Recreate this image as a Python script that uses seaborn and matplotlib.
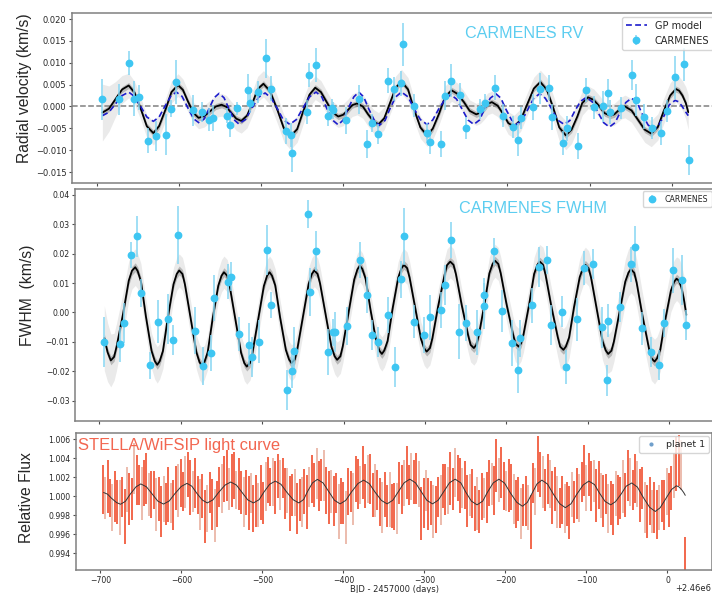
import numpy as np
import matplotlib
matplotlib.use("Agg")
import matplotlib.pyplot as plt
from matplotlib.lines import Line2D
from matplotlib.ticker import MultipleLocator
import seaborn as sns

# time offset of the x axis (BJD)
T0 = 2460000

# ---------------- CARMENES RV (days from T0, km/s) ----------------
rv_t = [-693, -673, -661, -654, -648, -638, -628, -616, -610, -603,
        -583, -572, -563, -559, -541, -538, -529, -516, -513, -504,
        -494, -488, -470, -464, -462, -444, -441, -433, -419, -413,
        -412, -396, -381, -371, -365, -358, -346, -338, -329, -327,
        -314, -298, -294, -281, -276, -269, -258, -251, -234, -227,
        -215, -206, -193, -187, -183, -169, -161, -150, -146, -133,
        -127, -114, -105, -95, -84, -78, -75, -62, -49, -43,
        -34, -24, -13, -6, 4, 15, 21]
rv_v = [0.0016, 0.0016, 0.0100, 0.0018, 0.0021, -0.0078, -0.0068, -0.0065, -0.0005, 0.0056,
        -0.0009, -0.0012, -0.0030, -0.0026, -0.0021, -0.0043, -0.0004, 0.0038, 0.0008, 0.0033,
        0.0110, 0.0041, -0.0056, -0.0065, -0.0106, -0.0013, 0.0072, 0.0095, -0.0021, -0.0004,
        -0.0009, -0.0032, 0.0016, -0.0085, -0.0038, -0.0062, 0.0059, 0.0040, 0.0053, 0.0142,
        0.0002, -0.0061, -0.0081, -0.0085, 0.0025, 0.0059, 0.0027, -0.0049, -0.0005, 0.0009,
        0.0043, -0.0021, -0.0046, -0.0076, -0.0026, -0.0002, 0.0041, 0.0043, -0.0024, -0.0084,
        -0.0050, -0.0091, 0.0038, -0.0002, 0.0000, 0.0031, -0.0013, -0.0004, 0.0072, 0.0015,
        -0.0023, -0.0049, -0.0061, -0.0011, 0.0067, 0.0097, -0.0123]
rv_e = [0.0047, 0.0036, 0.0027, 0.0040, 0.0028, 0.0028, 0.0034, 0.0047, 0.0020, 0.0051,
        0.0036, 0.0023, 0.0027, 0.0030, 0.0017, 0.0027, 0.0015, 0.0036, 0.0023, 0.0025,
        0.0044, 0.0028, 0.0030, 0.0027, 0.0044, 0.0027, 0.0028, 0.0038, 0.0023, 0.0021,
        0.0020, 0.0030, 0.0034, 0.0032, 0.0021, 0.0023, 0.0028, 0.0027, 0.0028, 0.0049,
        0.0027, 0.0023, 0.0027, 0.0030, 0.0034, 0.0038, 0.0027, 0.0025, 0.0023, 0.0019,
        0.0028, 0.0027, 0.0025, 0.0038, 0.0025, 0.0030, 0.0036, 0.0028, 0.0030, 0.0028,
        0.0028, 0.0030, 0.0028, 0.0027, 0.0036, 0.0032, 0.0027, 0.0025, 0.0034, 0.0036,
        0.0028, 0.0025, 0.0028, 0.0025, 0.0049, 0.0038, 0.0034]

# RV mean model (black) with outer band half-width
rv_mod_t = [-693,
            -685, -677, -669, -661, -654, -646, -639, -631, -624, -616, -609, -601,
            -595, -589, -582, -576, -569, -562, -555, -548, -542, -536, -530, -524,
            -517, -510, -504, -497, -489, -480, -472, -464, -456, -449, -441, -434,
            -427, -420, -413, -406, -400, -394, -389, -383, -376, -370, -363, -357,
            -350, -343, -336, -329, -321, -314, -306, -298, -291, -283, -276, -268,
            -261, -253, -246, -238, -233, -228, -224, -219, -212, -205, -199, -192,
            -184, -176, -168, -160, -152, -144, -137, -129, -122, -115, -109, -102,
            -95, -88, -82, -75, -70, -66, -61, -57, -49, -41, -33, -25,
            -17, -10, -2, 5, 9, 13, 17, 20]
rv_mod_v = [-0.0014,
            -0.0005, 0.0017, 0.0039, 0.0048, 0.0032, -0.0007, -0.0045, -0.0061,
            -0.0045, -0.0006, 0.0033, 0.0049, 0.0038, 0.0012, -0.0015, -0.0026,
            -0.0022, -0.0011, 0.0000, 0.0004, -0.0001, -0.0015, -0.0028, -0.0033,
            -0.0021, 0.0010, 0.0040, 0.0052, 0.0035, -0.0008, -0.0051, -0.0068,
            -0.0052, -0.0013, 0.0027, 0.0043, 0.0033, 0.0010, -0.0013, -0.0023,
            -0.0019, -0.0008, 0.0003, 0.0007, 0.0000, -0.0017, -0.0034, -0.0041,
            -0.0027, 0.0008, 0.0043, 0.0057, 0.0039, -0.0005, -0.0048, -0.0066,
            -0.0051, -0.0015, 0.0022, 0.0037, 0.0029, 0.0010, -0.0010, -0.0018,
            -0.0014, -0.0004, 0.0006, 0.0010, 0.0002, -0.0018, -0.0038, -0.0046,
            -0.0031, 0.0005, 0.0041, 0.0056, 0.0038, -0.0005, -0.0048, -0.0066,
            -0.0053, -0.0023, 0.0008, 0.0021, 0.0015, 0.0000, -0.0015, -0.0021,
            -0.0018, -0.0011, -0.0003, 0.0000, -0.0009, -0.0031, -0.0053, -0.0062,
            -0.0047, -0.0011, 0.0025, 0.0040, 0.0036, 0.0025, 0.0008, -0.0013]
rv_band = [0.0065,
           0.0052, 0.0040, 0.0032, 0.0028, 0.0026, 0.0025, 0.0026, 0.0027,
           0.0026, 0.0025, 0.0025, 0.0026, 0.0025, 0.0024, 0.0024, 0.0025,
           0.0025, 0.0025, 0.0025, 0.0026, 0.0026, 0.0026, 0.0027, 0.0028,
           0.0028, 0.0028, 0.0029, 0.0030, 0.0031, 0.0031, 0.0031, 0.0031,
           0.0030, 0.0029, 0.0028, 0.0027, 0.0026, 0.0025, 0.0025, 0.0025,
           0.0025, 0.0025, 0.0026, 0.0026, 0.0027, 0.0027, 0.0027, 0.0027,
           0.0026, 0.0026, 0.0027, 0.0028, 0.0027, 0.0026, 0.0025, 0.0025,
           0.0025, 0.0025, 0.0025, 0.0025, 0.0025, 0.0025, 0.0025, 0.0025,
           0.0025, 0.0025, 0.0025, 0.0025, 0.0025, 0.0025, 0.0026, 0.0026,
           0.0026, 0.0026, 0.0026, 0.0027, 0.0028, 0.0029, 0.0031, 0.0033,
           0.0032, 0.0030, 0.0028, 0.0026, 0.0025, 0.0025, 0.0025, 0.0025,
           0.0025, 0.0025, 0.0025, 0.0026, 0.0027, 0.0028, 0.0029, 0.0030,
           0.0030, 0.0029, 0.0029, 0.0030, 0.0032, 0.0034, 0.0037, 0.0040]

# GP model (blue dashed)
gp_t = [-693,
        -685, -677, -669, -661, -654, -646, -639, -631, -624, -617, -610, -603,
        -596, -589, -582, -575, -569, -563, -557, -551, -545, -539, -533, -527,
        -519, -511, -503, -495, -488, -480, -473, -465, -457, -449, -441, -433,
        -426, -420, -413, -406, -400, -394, -387, -381, -375, -369, -362, -356,
        -349, -343, -336, -329, -321, -314, -306, -298, -291, -284, -276, -269,
        -262, -255, -248, -241, -234, -228, -221, -214, -208, -202, -195, -189,
        -182, -175, -168, -161, -154, -146, -139, -131, -124, -118, -111, -104,
        -97, -90, -83, -76, -69, -63, -56, -49, -42, -36, -29, -22,
        -16, -9, -3, 4, 8, 12, 16, 20]
gp_v = [-0.0021,
        -0.0013, 0.0006, 0.0025, 0.0033, 0.0023, -0.0001, -0.0024, -0.0034,
        -0.0024, 0.0000, 0.0023, 0.0033, 0.0023, -0.0003, -0.0028, -0.0038,
        -0.0028, -0.0004, 0.0020, 0.0030, 0.0020, -0.0005, -0.0030, -0.0040,
        -0.0030, -0.0004, 0.0021, 0.0031, 0.0020, -0.0005, -0.0030, -0.0041,
        -0.0030, -0.0004, 0.0022, 0.0033, 0.0022, -0.0004, -0.0031, -0.0042,
        -0.0031, -0.0005, 0.0022, 0.0033, 0.0022, -0.0005, -0.0032, -0.0043,
        -0.0032, -0.0005, 0.0022, 0.0033, 0.0022, -0.0004, -0.0030, -0.0041,
        -0.0031, -0.0007, 0.0017, 0.0027, 0.0017, -0.0007, -0.0031, -0.0041,
        -0.0031, -0.0006, 0.0019, 0.0029, 0.0019, -0.0006, -0.0031, -0.0041,
        -0.0031, -0.0006, 0.0019, 0.0029, 0.0019, -0.0006, -0.0031, -0.0041,
        -0.0032, -0.0010, 0.0012, 0.0021, 0.0011, -0.0013, -0.0037, -0.0047,
        -0.0037, -0.0014, 0.0009, 0.0019, 0.0008, -0.0017, -0.0042, -0.0053,
        -0.0043, -0.0020, 0.0004, 0.0014, 0.0011, 0.0002, -0.0010, -0.0021]

# ---------------- CARMENES FWHM (days from T0, km/s) ----------------
fw_t = [-694, -675, -670, -661, -654, -649, -638, -628, -616, -610,
        -603, -583, -573, -563, -559, -542, -538, -529, -516, -513,
        -504, -494, -489, -470, -463, -461, -444, -441, -434, -419,
        -413, -411, -396, -380, -371, -365, -358, -346, -337, -330,
        -326, -313, -301, -294, -280, -276, -268, -258, -250, -236,
        -228, -227, -215, -205, -193, -186, -183, -168, -160, -150,
        -145, -132, -127, -113, -105, -94, -83, -77, -75, -61,
        -47, -42, -33, -23, -12, -6, 5, 16, 21]
fw_v = [-0.0102, -0.0108, -0.0036, 0.0195, 0.0259, 0.0066, -0.0180, -0.0031, -0.0022, -0.0093,
        0.0264, -0.0062, -0.0181, -0.0138, 0.0049, 0.0105, 0.0122, -0.0074, -0.0110, -0.0150,
        -0.0099, 0.0213, 0.0026, -0.0263, -0.0198, -0.0130, 0.0335, 0.0069, 0.0208, -0.0135,
        -0.0068, -0.0068, -0.0045, 0.0179, 0.0060, -0.0076, -0.0101, -0.0008, -0.0184, 0.0113,
        0.0259, -0.0031, -0.0076, -0.0017, 0.0009, 0.0092, 0.0247, -0.0065, -0.0036, -0.0068,
        0.0023, 0.0060, 0.0208, 0.0006, -0.0104, -0.0197, -0.0088, 0.0024, 0.0154, 0.0179,
        -0.0043, 0.0003, -0.0186, -0.0023, 0.0151, 0.0164, -0.0051, -0.0231, -0.0028, 0.0020,
        0.0164, 0.0222, -0.0054, -0.0133, -0.0178, -0.0036, 0.0143, 0.0111, -0.0042]
fw_e = [0.0085, 0.0060, 0.0068, 0.0045, 0.0070, 0.0048, 0.0045, 0.0073, 0.0085, 0.0050,
        0.0099, 0.0079, 0.0065, 0.0062, 0.0079, 0.0060, 0.0050, 0.0057, 0.0073, 0.0068,
        0.0073, 0.0085, 0.0045, 0.0068, 0.0060, 0.0079, 0.0048, 0.0082, 0.0068, 0.0079,
        0.0045, 0.0068, 0.0065, 0.0060, 0.0062, 0.0050, 0.0050, 0.0062, 0.0068, 0.0062,
        0.0096, 0.0057, 0.0062, 0.0076, 0.0062, 0.0068, 0.0062, 0.0094, 0.0062, 0.0076,
        0.0079, 0.0057, 0.0045, 0.0071, 0.0079, 0.0076, 0.0062, 0.0060, 0.0068, 0.0048,
        0.0068, 0.0054, 0.0057, 0.0074, 0.0057, 0.0051, 0.0071, 0.0054, 0.0057, 0.0051,
        0.0060, 0.0071, 0.0057, 0.0051, 0.0051, 0.0048, 0.0077, 0.0085, 0.0050]

# FWHM mean model (black) with outer band half-width
fw_mod_t = [-694, -690, -686,
            -682, -679, -671, -664, -660, -656,
            -653, -649, -643, -636, -632, -629,
            -626, -622, -616, -609, -605, -602,
            -598, -595, -588, -581, -577, -574,
            -571, -567, -561, -554, -550, -547,
            -543, -540, -533, -526, -522, -519,
            -515, -512, -505, -498, -494, -491,
            -488, -484, -478, -471, -467, -464,
            -460, -457, -450, -443, -439, -436,
            -432, -429, -422, -415, -411, -408,
            -404, -401, -394, -387, -383, -380,
            -377, -373, -367, -360, -356, -353,
            -350, -346, -340, -333, -329, -326,
            -322, -319, -312, -305, -301, -298,
            -294, -291, -284, -276, -273, -269,
            -265, -262, -255, -247, -244, -240,
            -237, -234, -227, -221, -217, -214,
            -210, -207, -200, -192, -189, -185,
            -182, -179, -172, -166, -162, -159,
            -155, -152, -145, -137, -134, -130,
            -127, -123, -117, -110, -106, -103,
            -99, -96, -89, -82, -78, -75,
            -71, -68, -61, -54, -50, -47,
            -43, -40, -33, -25, -22, -18,
            -15, -11, -5, 2, 6, 9,
            12, 15, 18, 21]
fw_mod_v = [-0.0087, -0.0135, -0.0163,
            -0.0151, -0.0117, -0.0005, 0.0108, 0.0142, 0.0154,
            0.0141, 0.0106, -0.0012, -0.0130, -0.0165, -0.0178,
            -0.0166, -0.0131, -0.0018, 0.0096, 0.0131, 0.0143,
            0.0131, 0.0096, -0.0019, -0.0134, -0.0169, -0.0181,
            -0.0169, -0.0135, -0.0022, 0.0091, 0.0125, 0.0137,
            0.0125, 0.0090, -0.0024, -0.0137, -0.0172, -0.0184,
            -0.0172, -0.0137, -0.0024, 0.0090, 0.0125, 0.0137,
            0.0125, 0.0092, -0.0018, -0.0127, -0.0160, -0.0172,
            -0.0160, -0.0126, -0.0015, 0.0097, 0.0131, 0.0143,
            0.0131, 0.0099, -0.0009, -0.0117, -0.0149, -0.0161,
            -0.0149, -0.0114, -0.0001, 0.0112, 0.0147, 0.0159,
            0.0148, 0.0115, 0.0009, -0.0097, -0.0130, -0.0141,
            -0.0129, -0.0097, 0.0011, 0.0118, 0.0150, 0.0162,
            0.0151, 0.0119, 0.0015, -0.0090, -0.0122, -0.0133,
            -0.0121, -0.0088, 0.0020, 0.0128, 0.0161, 0.0173,
            0.0162, 0.0130, 0.0026, -0.0078, -0.0110, -0.0121,
            -0.0110, -0.0078, 0.0028, 0.0133, 0.0165, 0.0176,
            0.0165, 0.0133, 0.0030, -0.0073, -0.0105, -0.0116,
            -0.0105, -0.0074, 0.0029, 0.0131, 0.0162, 0.0173,
            0.0162, 0.0129, 0.0023, -0.0083, -0.0116, -0.0127,
            -0.0116, -0.0085, 0.0018, 0.0120, 0.0151, 0.0162,
            0.0150, 0.0118, 0.0011, -0.0097, -0.0129, -0.0141,
            -0.0130, -0.0099, 0.0003, 0.0105, 0.0136, 0.0147,
            0.0135, 0.0101, -0.0010, -0.0121, -0.0155, -0.0167,
            -0.0156, -0.0126, -0.0026, 0.0074, 0.0104, 0.0115,
            0.0108, 0.0085, 0.0045, -0.0008]
fw_band = [0.0110, 0.0100, 0.0090,
           0.0080, 0.0080, 0.0072, 0.0066, 0.0062, 0.0062,
           0.0060, 0.0060, 0.0058, 0.0060, 0.0062, 0.0062,
           0.0060, 0.0060, 0.0058, 0.0057, 0.0056, 0.0056,
           0.0056, 0.0056, 0.0057, 0.0058, 0.0060, 0.0060,
           0.0058, 0.0058, 0.0056, 0.0055, 0.0055, 0.0055,
           0.0055, 0.0055, 0.0056, 0.0058, 0.0060, 0.0060,
           0.0058, 0.0058, 0.0056, 0.0055, 0.0055, 0.0055,
           0.0056, 0.0056, 0.0058, 0.0060, 0.0062, 0.0062,
           0.0060, 0.0060, 0.0058, 0.0056, 0.0055, 0.0055,
           0.0055, 0.0055, 0.0056, 0.0058, 0.0060, 0.0060,
           0.0058, 0.0058, 0.0056, 0.0055, 0.0055, 0.0055,
           0.0055, 0.0055, 0.0056, 0.0057, 0.0058, 0.0058,
           0.0057, 0.0057, 0.0056, 0.0055, 0.0055, 0.0055,
           0.0055, 0.0055, 0.0056, 0.0057, 0.0058, 0.0058,
           0.0057, 0.0057, 0.0056, 0.0055, 0.0055, 0.0055,
           0.0055, 0.0055, 0.0056, 0.0057, 0.0058, 0.0058,
           0.0057, 0.0057, 0.0056, 0.0055, 0.0056, 0.0056,
           0.0056, 0.0056, 0.0058, 0.0060, 0.0062, 0.0062,
           0.0060, 0.0060, 0.0058, 0.0057, 0.0058, 0.0058,
           0.0060, 0.0060, 0.0064, 0.0068, 0.0072, 0.0072,
           0.0070, 0.0070, 0.0066, 0.0062, 0.0060, 0.0060,
           0.0060, 0.0060, 0.0062, 0.0064, 0.0066, 0.0066,
           0.0068, 0.0068, 0.0072, 0.0076, 0.0080, 0.0080,
           0.0080, 0.0080, 0.0078, 0.0076, 0.0076, 0.0076,
           0.0074, 0.0074, 0.0072, 0.0072, 0.0074, 0.0074,
           0.0076, 0.0078, 0.0080, 0.0082]

# ---------------- STELLA/WiFSIP light curve ----------------
lc_t = [-697, -694, -691, -688, -685, -682, -679, -676, -673, -670,
        -667, -664, -661, -658, -655, -652, -649, -646, -643, -640,
        -637, -634, -631, -628, -625, -622, -619, -616, -613, -610,
        -607, -604, -601, -598, -595, -592, -589, -586, -583, -580,
        -577, -574, -571, -568, -565, -562, -559, -556, -553, -550,
        -547, -544, -541, -538, -535, -532, -529, -526, -523, -520,
        -517, -514, -511, -508, -505, -502, -499, -496, -493, -490,
        -487, -484, -481, -478, -475, -472, -469, -466, -463, -460,
        -457, -454, -451, -448, -445, -442, -439, -436, -433, -430,
        -427, -424, -421, -418, -415, -412, -409, -406, -403, -400,
        -397, -394, -391, -388, -385, -382, -379, -376, -373, -370,
        -367, -364, -361, -358, -355, -352, -349, -346, -343, -340,
        -337, -334, -331, -328, -325, -322, -319, -316, -313, -310,
        -307, -304, -301, -298, -295, -292, -289, -286, -283, -280,
        -277, -274, -271, -268, -265, -262, -259, -256, -253, -250,
        -247, -244, -241, -238, -235, -232, -229, -226, -223, -220,
        -217, -214, -211, -208, -205, -202, -199, -196, -193, -190,
        -187, -184, -181, -178, -175, -172, -169, -166, -163, -160,
        -157, -154, -151, -148, -145, -142, -139, -136, -133, -130,
        -127, -124, -121, -118, -115, -112, -109, -106, -103, -100,
        -97, -94, -91, -88, -85, -82, -79, -76, -73, -70,
        -67, -64, -61, -58, -55, -52, -49, -46, -43, -40,
        -37, -34, -31, -28, -25, -22, -19, -16, -13, -10,
        -7, -4, -1, 2, 5, 8, 11, 14, 17, 22]
# flux - 1, in units of 1e-4
lc_dflux = [7, -2, 10, -2, -12, 0, -6, -12, -1, -21,
            7, -3, -3, 29, 17, 12, 3, 14, 19, 2,
            2, 7, -9, -3, -16, -3, -8, 2, -7, -9,
            9, 6, 14, 5, 15, 23, 9, 5, 14, 1,
            -9, 0, -21, -13, 4, -9, -20, -8, 10, 8,
            18, 22, 8, 17, 22, 7, 13, 4, -6, 4,
            -7, 3, -13, -5, -9, 4, -7, 10, 17, 10,
            15, 9, 21, 12, 19, 3, 6, -8, 1, 4,
            -13, -4, -6, 5, -6, 10, 18, 12, 24, 11,
            17, 22, 6, -1, 5, -5, 3, -16, -5, -7,
            -22, 5, 5, -3, 18, 13, 12, 25, 11, 18,
            18, 1, 6, 7, -6, -12, 2, -10, -3, -10,
            -11, -13, 14, 7, 14, 25, 12, 21, 15, 19,
            13, -18, -7, 6, -8, -7, -16, -14, -1, -4,
            11, 7, 6, 19, 8, 25, 19, 11, 9, 12,
            -5, 1, 3, -13, -8, -16, 0, -2, -1, 14,
            13, 6, 32, 17, 25, 11, 6, 11, 10, -3,
            -8, -3, -18, -9, -5, -12, -27, 14, 5, 34,
            23, 15, 7, 18, 13, -1, 8, -6, -12, -4,
            -13, -8, -17, 2, -6, 3, -2, 15, 27, 9,
            23, 11, 16, 1, 12, 1, -5, 2, -13, -7,
            -14, 3, -4, -2, 10, 1, 22, 15, 7, 19,
            13, 1, 9, -12, -16, -5, -16, -12, -19, -12,
            -5, -9, 5, -4, 9, 22, 34, 38, 33, -66]
lc_derr = [26, 22, 28, 20, 25, 27, 23, 29, 21, 29,
           24, 27, 22, 27, 26, 21, 28, 24, 27, 23,
           25, 20, 28, 23, 27, 24, 22, 29, 21, 26,
           23, 28, 25, 21, 27, 24, 29, 22, 26, 20,
           27, 23, 28, 25, 22, 27, 28, 24, 21, 26,
           24, 27, 22, 28, 25, 20, 27, 23, 26, 24,
           28, 21, 25, 27, 23, 29, 22, 26, 24, 20,
           25, 28, 23, 26, 21, 27, 24, 29, 22, 25,
           27, 22, 26, 24, 28, 21, 25, 23, 27, 26,
           22, 27, 25, 28, 23, 26, 21, 29, 24, 22,
           28, 25, 22, 27, 24, 26, 20, 28, 23, 25,
           26, 23, 28, 21, 25, 27, 24, 22, 29, 23,
           25, 27, 22, 26, 24, 28, 21, 25, 23, 27,
           24, 28, 26, 22, 27, 23, 28, 25, 21, 26,
           23, 27, 25, 28, 22, 26, 24, 29, 21, 25,
           27, 22, 26, 24, 28, 23, 25, 21, 27, 24,
           22, 26, 28, 23, 27, 25, 21, 28, 24, 26,
           25, 23, 27, 22, 26, 24, 28, 21, 25, 29,
           24, 27, 22, 26, 25, 28, 23, 27, 21, 25,
           26, 23, 28, 24, 22, 27, 25, 21, 27, 24,
           23, 26, 22, 28, 25, 24, 27, 21, 26, 23,
           27, 24, 26, 22, 28, 23, 27, 25, 21, 26,
           24, 28, 22, 27, 28, 25, 23, 27, 26, 24,
           22, 26, 25, 28, 23, 24, 28, 27, 26, 23]

lc_mod_t = [-696,
            -691, -686, -680, -675, -669, -663, -656, -650, -643, -636, -629, -622,
            -615, -608, -600, -593, -587, -581, -574, -568, -561, -554, -546, -539,
            -532, -525, -518, -511, -504, -498, -491, -484, -477, -470, -462, -455,
            -449, -444, -438, -432, -425, -418, -411, -404, -397, -390, -382, -375,
            -368, -361, -353, -346, -339, -332, -325, -318, -311, -304, -297, -290,
            -283, -276, -269, -262, -255, -249, -242, -235, -228, -222, -215, -208,
            -201, -194, -186, -179, -173, -167, -161, -155, -148, -141, -133, -126,
            -119, -112, -104, -97, -90, -84, -77, -70, -64, -57, -51, -44,
            -37, -30, -22, -15, -9, -2, 5, 11, 14, 17, 20, 22]
lc_mod_f = [1.00040,
            1.00022, 0.99978, 0.99934, 0.99916, 0.99947, 1.00023, 1.00099, 1.00130,
            1.00099, 1.00024, 0.99949, 0.99918, 0.99950, 1.00027, 1.00104, 1.00136,
            1.00106, 1.00033, 0.99960, 0.99930, 0.99962, 1.00040, 1.00118, 1.00150,
            1.00118, 1.00040, 0.99962, 0.99930, 0.99964, 1.00045, 1.00126, 1.00160,
            1.00126, 1.00045, 0.99964, 0.99930, 0.99966, 1.00054, 1.00142, 1.00178,
            1.00140, 1.00049, 0.99958, 0.99920, 0.99957, 1.00045, 1.00134, 1.00170,
            1.00133, 1.00045, 0.99956, 0.99920, 0.99958, 1.00050, 1.00142, 1.00180,
            1.00142, 1.00050, 0.99958, 0.99920, 0.99958, 1.00050, 1.00142, 1.00180,
            1.00141, 1.00045, 0.99949, 0.99910, 0.99949, 1.00045, 1.00141, 1.00180,
            1.00138, 1.00037, 0.99937, 0.99895, 0.99935, 1.00033, 1.00130, 1.00170,
            1.00128, 1.00025, 0.99922, 0.99880, 0.99921, 1.00020, 1.00119, 1.00160,
            1.00123, 1.00035, 0.99946, 0.99910, 0.99944, 1.00025, 1.00106, 1.00140,
            1.00096, 0.99990, 0.99884, 0.99840, 0.99879, 0.99975, 1.00071, 1.00110,
            1.00100, 1.00075, 1.00040, 1.00010]

# ---------------- plotting ----------------
sns.set_style("ticks")
plt.rcParams["font.family"] = ["DejaVu Sans"]
plt.rcParams["axes.formatter.offset_threshold"] = 3

BIG = "Liberation Sans"
CYAN = "#3ec6f2"
CYAN_ERR = "#86d6f2"
TXT_CYAN = "#5ccdf0"

W, H = 712, 593
fig = plt.figure(figsize=(W / 100, H / 100), dpi=100)


def panel(l, t, r, b):
    return fig.add_axes([l / W, 1 - b / H, (r - l) / W, (b - t) / H])


ax_rv = panel(72, 13, 717, 182.5)
ax_fw = panel(75, 189, 714, 421)
ax_lc = panel(76, 433, 712, 570)

# --- RV panel
x = np.array(rv_mod_t) + T0
m = np.array(rv_mod_v)
ax_rv.fill_between(x, m - np.array(rv_band), m + np.array(rv_band), color="#eaeaea", lw=0, zorder=1)
ax_rv.fill_between(x, m - 0.0007, m + 0.0007, color="#b8b8b8", lw=0, zorder=1.2)
ax_rv.axhline(0, color="0.5", ls="--", lw=1.1, zorder=1.5)
sns.lineplot(x=x, y=m, ax=ax_rv, color="black", lw=1.3, estimator=None, sort=False, zorder=2)
sns.lineplot(x=np.array(gp_t) + T0, y=gp_v, ax=ax_rv, color="#1c1ccc", lw=1.2,
             estimator=None, sort=False, zorder=2.5, dashes=False, linestyle=(0, (3.5, 2)))
rv_err = ax_rv.errorbar(np.array(rv_t) + T0, rv_v, yerr=rv_e, fmt="o", color=CYAN, ms=4.6,
                        ecolor=CYAN_ERR, elinewidth=1.1, capsize=0, zorder=5)
ax_rv.set_ylim(-0.0174, 0.0214)
ax_rv.yaxis.set_major_locator(MultipleLocator(0.005))
ax_rv.text(0.701, 0.852, "CARMENES RV", transform=ax_rv.transAxes, ha="center", va="baseline",
           color=TXT_CYAN, fontsize=11.6, family=BIG)
gp_handle = Line2D([], [], color="#1c1ccc", lw=1.2, linestyle=(0, (3.5, 2)))
ax_rv.legend([gp_handle, rv_err], ["GP model", "CARMENES"], loc="upper right", fontsize=7,
             frameon=True, edgecolor="0.8", borderaxespad=0.4, handlelength=2.2)
ax_rv.set_ylabel("Radial velocity (km/s)", fontsize=11.3, family=BIG)
ax_rv.yaxis.set_label_coords(-0.062, 0.557)

# --- FWHM panel
x = np.array(fw_mod_t) + T0
m = np.array(fw_mod_v)
ax_fw.fill_between(x, m - np.array(fw_band), m + np.array(fw_band), color="#eaeaea", lw=0, zorder=1)
ax_fw.fill_between(x, m - 0.0015, m + 0.0015, color="#b8b8b8", lw=0, zorder=1.2)
sns.lineplot(x=x, y=m, ax=ax_fw, color="black", lw=1.3, estimator=None, sort=False, zorder=2)
fw_err = ax_fw.errorbar(np.array(fw_t) + T0, fw_v, yerr=fw_e, fmt="o", color=CYAN, ms=4.6,
                        ecolor=CYAN_ERR, elinewidth=1.1, capsize=0, zorder=5)
ax_fw.set_ylim(-0.0369, 0.042)
ax_fw.yaxis.set_major_locator(MultipleLocator(0.01))
ax_fw.text(0.717, 0.897, "CARMENES FWHM", transform=ax_fw.transAxes, ha="center", va="baseline",
           color=TXT_CYAN, fontsize=11.7, family=BIG)
ax_fw.legend([fw_err], ["CARMENES"], loc="upper right", fontsize=5.7, frameon=True,
             edgecolor="0.8", borderaxespad=0.3, handlelength=1.6)
ax_fw.set_ylabel("FWHM  (km/s)", fontsize=11.3, family=BIG)
ax_fw.yaxis.set_label_coords(-0.0626, 0.543)

# --- light curve panel
lx = np.array(lc_t) + T0
lf = 1 + np.array(lc_dflux) * 1e-4
le = np.array(lc_derr) * 1e-4
pale = np.arange(len(lx)) % 3 == 1
ax_lc.vlines(lx[~pale], lf[~pale] - le[~pale], lf[~pale] + le[~pale], colors="#f04e2e", lw=1.2, zorder=2)
ax_lc.vlines(lx[pale], lf[pale] - le[pale], lf[pale] + le[pale], colors="#e9b0a0", lw=1.2, zorder=1.8)
sns.lineplot(x=np.array(lc_mod_t) + T0, y=lc_mod_f, ax=ax_lc, color="#333333", lw=0.7,
             estimator=None, sort=False, zorder=3)
ax_lc.set_ylim(0.99224, 1.00666)
ax_lc.yaxis.set_major_locator(MultipleLocator(0.002))
ax_lc.ticklabel_format(axis="y", useOffset=False)
ax_lc.text(0.003, 0.876, "STELLA/WiFSIP light curve", transform=ax_lc.transAxes, ha="left",
           va="baseline", color="#f26650", fontsize=11.9, family=BIG)
pl_handle = Line2D([], [], marker=".", ls="none", color="#6f9fcb", ms=4)
ax_lc.legend([pl_handle], ["planet 1"], loc="upper right", fontsize=6.8, frameon=True,
             edgecolor="0.8", borderaxespad=0.35, handlelength=1.6)
ax_lc.set_ylabel("Relative Flux", fontsize=11.3, family=BIG)
ax_lc.yaxis.set_label_coords(-0.066, 0.529)
ax_lc.set_xlabel("BJD - 2457000 (days)", fontsize=6, labelpad=0)

for ax in (ax_rv, ax_fw, ax_lc):
    ax.set_xlim(T0 - 730, T0 + 55)
    ax.xaxis.set_major_locator(MultipleLocator(100))
    ax.tick_params(axis="both", direction="out", length=2.5, width=0.8, color="0.3",
                   labelsize=5.6, pad=1.5)
    for s in ax.spines.values():
        s.set_color("0.5")
        s.set_linewidth(1.1)
ax_rv.tick_params(axis="y", labelsize=6)
for ax in (ax_fw, ax_rv, ax_lc):
    ax.xaxis.get_offset_text().set_visible(False)
ax_rv.tick_params(labelbottom=False)
ax_fw.tick_params(labelbottom=False)

# x offset written beside the last tick, slightly higher than matplotlib would put it
ax_lc.text(0.9985, -0.138, "+2.46e6", transform=ax_lc.transAxes, ha="right", va="center",
           fontsize=6, color="0.15")

fig.savefig("out.png", dpi=100)
